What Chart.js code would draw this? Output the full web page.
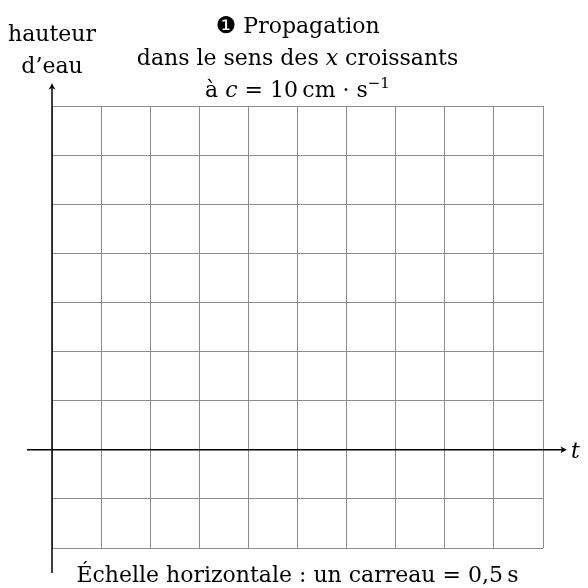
<!DOCTYPE html>
<html>
<head>
<meta charset="utf-8">
<script src="https://cdn.jsdelivr.net/npm/chart.js@4"></script>
<style>
  html, body { margin: 0; padding: 0; background: #fff; }
  #wrap { width: 588px; height: 588px; }
</style>
</head>
<body>
<div id="wrap"><canvas id="chart" width="588" height="588"></canvas></div>
<script>
// grid squares: one column = 0.5 s, rows = water height units
const xTicks = [0, 1, 2, 3, 4, 5, 6, 7, 8, 9, 10];
const yTicks = [-2, -1, 0, 1, 2, 3, 4, 5, 6, 7];
const seriesPoints = []; // empty grid, nothing plotted yet

const serif = '"DejaVu Serif", serif';
const FS = 22;

// draw a line of mixed pieces centred on cx
function drawPieces(ctx, pieces, cx, y) {
  let total = 0;
  pieces.forEach(p => {
    ctx.font = p.font;
    p.w = ctx.measureText(p.t).width;
    total += p.w;
  });
  let x = cx - total / 2;
  pieces.forEach(p => {
    ctx.font = p.font;
    ctx.fillText(p.t, x, y + (p.dy || 0));
    x += p.w;
  });
}

function arrowHead(ctx, x, y, dir) {
  // dir: 'right' or 'up'
  ctx.save();
  ctx.translate(x, y);
  if (dir === 'up') ctx.rotate(-Math.PI / 2);
  ctx.beginPath();
  ctx.moveTo(0, 0);
  ctx.quadraticCurveTo(-3, -1, -6.5, -3.5);
  ctx.lineTo(-5, 0);
  ctx.lineTo(-6.5, 3.5);
  ctx.quadraticCurveTo(-3, 1, 0, 0);
  ctx.closePath();
  ctx.fill();
  ctx.restore();
}

const decorPlugin = {
  id: 'decor',
  afterDraw(chart) {
    const ctx = chart.ctx;
    const xs = chart.scales.x, ys = chart.scales.y;
    const x0 = xs.getPixelForValue(0);
    const y0 = ys.getPixelForValue(0);
    const area = chart.chartArea;
    ctx.save();
    ctx.strokeStyle = '#000';
    ctx.fillStyle = '#000';
    ctx.lineWidth = 1.5;

    // horizontal axis t
    ctx.beginPath();
    ctx.moveTo(x0 - 25, y0);
    ctx.lineTo(area.right + 22, y0);
    ctx.stroke();
    arrowHead(ctx, area.right + 24, y0, 'right');

    // vertical axis
    ctx.beginPath();
    ctx.moveTo(x0, area.bottom + 25);
    ctx.lineTo(x0, area.top - 21);
    ctx.stroke();
    arrowHead(ctx, x0, area.top - 23, 'up');

    ctx.textBaseline = 'alphabetic';
    ctx.textAlign = 'left';
    const rom = FS + 'px ' + serif;
    const ita = 'italic ' + FS + 'px ' + serif;

    // t label
    ctx.font = ita;
    ctx.fillText('t', area.right + 28, y0 + 8);

    // y label
    drawPieces(ctx, [{ t: 'hauteur', font: rom }], x0, 41);
    drawPieces(ctx, [{ t: 'd\u2019eau', font: rom }], x0, 73);

    const cx = (area.left + area.right) / 2;
    drawPieces(ctx, [
      { t: '\u2776 ', font: '23px "DejaVu Sans", sans-serif' },
      { t: 'Propagation', font: rom }
    ], cx, 33);
    drawPieces(ctx, [
      { t: 'dans le sens des ', font: rom },
      { t: 'x', font: ita },
      { t: ' croissants', font: rom }
    ], cx, 65);
    drawPieces(ctx, [
      { t: '\u00e0 ', font: rom },
      { t: 'c', font: ita },
      { t: ' = 10\u2009cm \u00b7 s', font: rom },
      { t: '\u22121', font: '15px ' + serif, dy: -9 }
    ], cx, 97);

    drawPieces(ctx, [
      { t: '\u00c9chelle horizontale : un carreau = 0,5\u2009s', font: rom }
    ], cx, 582);
    ctx.restore();
  }
};

new Chart(document.getElementById('chart'), {
  type: 'scatter',
  data: {
    datasets: [{ data: seriesPoints, pointRadius: 0 }]
  },
  options: {
    responsive: false,
    animation: false,
    layout: { padding: { left: 52, right: 45, top: 106, bottom: 40 } },
    plugins: { legend: { display: false }, tooltip: { enabled: false } },
    scales: {
      x: {
        type: 'linear',
        min: xTicks[0],
        max: xTicks[xTicks.length - 1],
        afterBuildTicks: axis => { axis.ticks = xTicks.map(v => ({ value: v })); },
        ticks: { display: false },
        grid: { color: '#8c8c8c', lineWidth: 1, drawTicks: false },
        border: { display: false }
      },
      y: {
        type: 'linear',
        min: yTicks[0],
        max: yTicks[yTicks.length - 1],
        afterBuildTicks: axis => { axis.ticks = yTicks.map(v => ({ value: v })); },
        ticks: { display: false },
        grid: { color: '#8c8c8c', lineWidth: 1, drawTicks: false },
        border: { display: false }
      }
    }
  },
  plugins: [decorPlugin]
});
</script>
</body>
</html>
